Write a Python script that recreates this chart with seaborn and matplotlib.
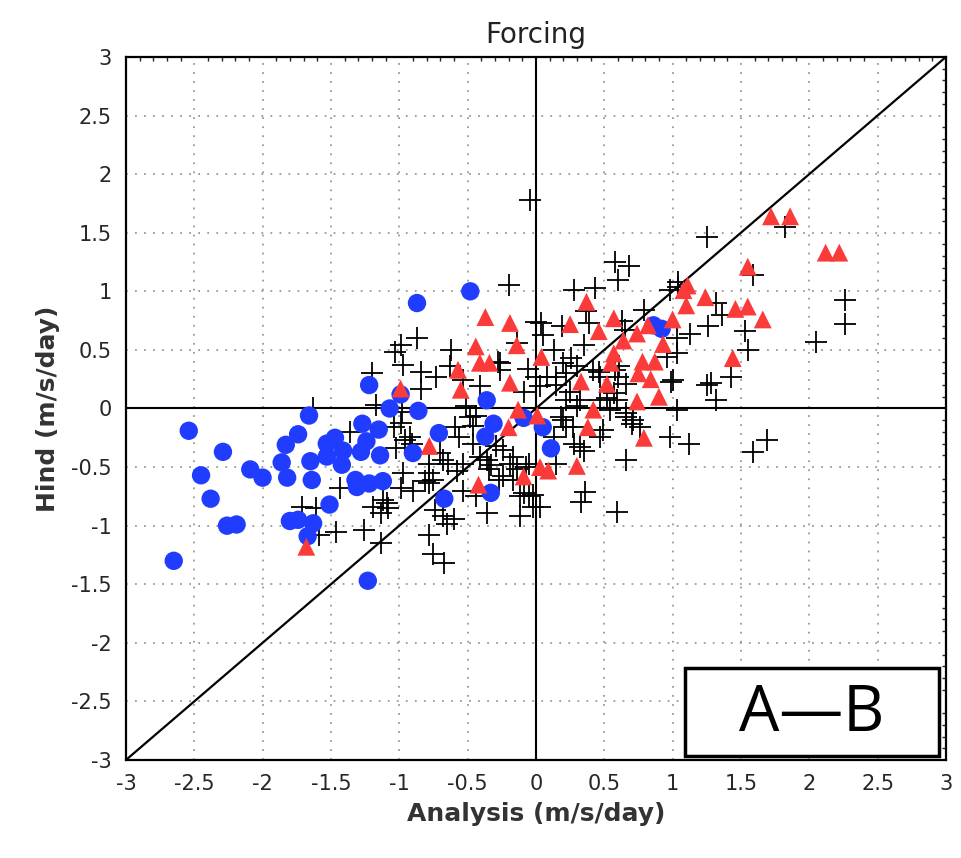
import numpy as np
import pandas as pd
import matplotlib
matplotlib.use("Agg")
import matplotlib.pyplot as plt
import seaborn as sns
from matplotlib.patches import Rectangle
from matplotlib.ticker import MultipleLocator, FuncFormatter

# ------------------------------
# Data (Analysis, Hind) in m/s/day
# ------------------------------
blue_x = [-0.87, -0.48, -1.22, -0.99, -1.07, -0.86, -1.66, -2.54, -1.74, -1.27, -1.15, -1.47,
          -1.83, -1.24, -1.53, -1.41, -1.28, -1.14, -0.90, -2.29, -1.53, -1.86, -1.65, -1.42,
          -2.09, -2.00, -2.45, -1.82, -1.64, -1.32, -1.31, -1.22, -1.12, -2.38, -1.51, -2.26,
          -2.19, -1.80, -1.74, -1.63, -1.67, -2.65, -1.23, -0.36, -0.31, -0.37, -0.71, -0.09,
          0.05, 0.11, -0.33, -0.67, 0.86, 0.92]
blue_y = [0.90, 1.00, 0.20, 0.12, 0.00, -0.02, -0.06, -0.19, -0.22, -0.13, -0.18, -0.25,
          -0.31, -0.28, -0.30, -0.36, -0.37, -0.40, -0.38, -0.37, -0.41, -0.46, -0.45, -0.48,
          -0.52, -0.59, -0.57, -0.59, -0.61, -0.61, -0.67, -0.64, -0.62, -0.77, -0.82, -1.00,
          -0.99, -0.96, -0.95, -0.98, -1.09, -1.30, -1.47, 0.07, -0.13, -0.24, -0.21, -0.08,
          -0.16, -0.34, -0.72, -0.77, 0.71, 0.68]

red_x = [-0.99, -1.68, 0.37, -0.37, -0.19, 0.25, 0.46, 0.57, 0.74, 1.00, 0.64, 0.93,
         -0.44, -0.14, 0.04, 0.57, 0.55, -0.41, -0.34, -0.57, 0.78, 0.87, 0.75, 0.84,
         0.33, 0.52, -0.19, -0.55, 0.90, 0.74, 0.42, -0.13, 0.01, -0.20, 0.38, 0.79,
         -0.78, 0.30, 0.03, 0.09, -0.09, -0.42, 1.72, 1.86, 2.12, 2.22, 1.55, 1.11,
         1.08, 1.24, 1.10, 1.46, 1.55, 1.66, 0.82, 1.44]
red_y = [0.17, -1.18, 0.91, 0.78, 0.73, 0.72, 0.66, 0.77, 0.64, 0.76, 0.58, 0.55,
         0.53, 0.54, 0.44, 0.47, 0.39, 0.39, 0.39, 0.33, 0.40, 0.40, 0.30, 0.25,
         0.23, 0.21, 0.22, 0.16, 0.10, 0.06, -0.01, -0.01, -0.06, -0.16, -0.16, -0.25,
         -0.32, -0.49, -0.50, -0.53, -0.58, -0.65, 1.64, 1.64, 1.33, 1.33, 1.21, 1.05,
         1.01, 0.95, 0.88, 0.85, 0.87, 0.76, 0.71, 0.43]

cross_x = [-0.04, -0.20, 0.58, 0.68, 0.60, 0.28, 0.43, 1.04, -0.87, -0.99, -1.03, -0.62,
           -0.97, -0.84, -0.73, -0.84, 0.04, 0.05, 0.37, 0.39, 0.79, 0.19, 0.35, 0.13,
           0.26, 0.30, -0.06, -0.28, 0.15, 0.00, 0.03, 0.61, 0.46, 0.66, 0.57, 1.00,
           -0.09, -0.41, -0.44, -0.51, 0.22, 0.30, 0.47, 0.54, 0.66, 0.70, 1.03, 0.98,
           0.18, 0.22, 0.13, 0.32, 0.47, 0.66, 0.36, 0.33, 0.59, -1.04, -0.92, -0.59,
           -0.56, -0.70, -0.64, -0.78, -0.75, -0.90, -0.97, -0.46, -0.41, -0.34, -0.27, -0.17,
           -0.09, -0.02, -0.53, -0.36, -1.09,
           1.25, 1.82, 1.59, 1.04, 0.98, 1.32, 1.36, 1.26, 1.13, 1.03, 1.53, 1.55,
           2.26, 2.26, 2.05, 1.03, 0.99, 1.25, 1.28, 1.43, 1.32, 1.12, 1.69, 1.59,
           0.71, 0.03, -0.02, 0.20, 0.27, 0.28, 0.35, 0.15, 0.49, 0.66, 0.76,
           -1.36, -1.43, -1.46, -1.26, -1.19, -1.12, -1.08, -1.13, -1.13, -0.99, -1.02, -0.96,
           -0.91, -0.99, -0.78, -0.81, -0.78, -0.68, -0.74, -0.68, -0.60, -0.65, -0.78, -0.75,
           -0.67, -0.58, -0.53, -0.48, -0.46, -0.36, -0.33, -0.29, -0.24, -0.19, -0.14, -0.07,
           -0.05, -0.44, -0.12, -0.12, -0.05, -0.24, -0.17,
           -1.20, -1.17, -1.63, -0.98, -1.71, -1.61, -1.59, -0.63, -0.53, -0.26, -0.26, -0.14,
           0.00, 0.63, 0.65, 0.20, 0.22, 0.08, 0.15, 0.42, 0.47, 0.25, 0.32, 0.58,
           0.60, 0.52, 0.59, 0.96]
cross_y = [1.78, 1.05, 1.25, 1.22, 1.10, 1.01, 1.03, 1.04, 0.60, 0.54, 0.48, 0.50,
           0.37, 0.31, 0.27, 0.17, 0.73, 0.63, 0.83, 0.73, 0.84, 0.70, 0.54, 0.50,
           0.43, 0.36, 0.34, 0.40, 0.27, 0.27, 0.19, 0.36, 0.31, 0.21, 0.13, 0.24,
           0.14, 0.19, -0.06, 0.02, 0.07, 0.02, 0.07, -0.01, -0.04, -0.13, -0.01, -0.24,
           -0.07, -0.16, -0.24, -0.33, -0.24, -0.44, -0.71, -0.80, -0.88, -0.16, -0.24, -0.16,
           -0.24, -0.38, -0.47, -0.55, -0.61, -0.70, -0.55, -0.30, -0.41, -0.52, -0.61, -0.41,
           -0.72, -0.84, -0.70, -0.89, -0.81,
           1.46, 1.55, 1.14, 1.08, 1.01, 0.90, 0.80, 0.70, 0.64, 0.60, 0.66, 0.50,
           0.93, 0.72, 0.57, 0.47, 0.23, 0.20, 0.22, 0.27, 0.07, -0.30, -0.27, -0.37,
           -0.10, -0.84, -0.74, -0.10, -0.16, -0.30, -0.36, -0.47, -0.18, -0.07, -0.16,
           -0.20, -0.68, -1.05, -1.04, -0.84, -0.78, -0.85, -0.89, -1.15, -0.12, -0.34, -0.27,
           -0.30, -0.68, -0.47, -0.62, -0.64, -0.44, -0.87, -0.92, -0.94, -0.99, -1.08, -1.24,
           -1.32, -0.53, -0.47, -0.07, -0.15, -0.44, -0.48, -0.32, -0.35, -0.47, -0.52, -0.50,
           -0.47, -0.75, -0.92, -0.75, -0.75, -0.58, -0.61,
           0.30, 0.03, 0.00, -0.03, -0.84, -0.85, -1.08, 0.36, 0.24, 0.39, 0.33, 0.56,
           0.74, 0.75, 0.67, 0.39, 0.30, 0.27, 0.20, 0.33, 0.27, 0.14, 0.07, 0.33,
           0.27, 0.09, 0.07, 0.44]

tick_vals = np.arange(-3, 3.01, 0.5)

cross_df = pd.DataFrame({"Analysis": cross_x, "Hind": cross_y})
blue_df = pd.DataFrame({"Analysis": blue_x, "Hind": blue_y})
red_df = pd.DataFrame({"Analysis": red_x, "Hind": red_y})

# ------------------------------
# Figure
# ------------------------------
sns.set_style("white")
plt.rcParams["font.family"] = ["DejaVu Sans"]

fig = plt.figure(figsize=(9.61, 8.58), dpi=100)
ax = fig.add_axes([0.131, 0.1142, 0.8533, 0.8194])

# grid and reference lines
for v in tick_vals:
    ax.axvline(v, color="#9a9a9a", lw=1.3, ls=(0, (1, 4)), zorder=0)
    ax.axhline(v, color="#9a9a9a", lw=1.3, ls=(0, (1, 4)), zorder=0)
ax.axhline(0, color="black", lw=1.5, zorder=1)
ax.axvline(0, color="black", lw=1.5, zorder=1)
ax.plot([-3, 3], [-3, 3], color="black", lw=1.6, zorder=1)

sns.scatterplot(data=cross_df, x="Analysis", y="Hind", marker="+", s=240,
                color="black", linewidth=1.3, ax=ax, zorder=2)
sns.scatterplot(data=blue_df, x="Analysis", y="Hind", marker="o", s=175,
                color="#1f3cff", edgecolor="none", ax=ax, zorder=3)
sns.scatterplot(data=red_df, x="Analysis", y="Hind", marker="^", s=165,
                color="#fb3a3a", edgecolor="none", ax=ax, zorder=4)

ax.set_xlim(-3, 3)
ax.set_ylim(-3, 3)
fmt = FuncFormatter(lambda v, p: f"{v:g}")
ax.xaxis.set_major_locator(MultipleLocator(0.5))
ax.yaxis.set_major_locator(MultipleLocator(0.5))
ax.xaxis.set_major_formatter(fmt)
ax.yaxis.set_major_formatter(fmt)
ax.xaxis.set_minor_locator(MultipleLocator(0.1))
ax.yaxis.set_minor_locator(MultipleLocator(0.1))
ax.tick_params(which="major", direction="out", length=6, width=1.3,
               labelsize=15, pad=4)
ax.tick_params(which="minor", direction="in", length=3, width=1.0,
               top=True, right=True)
for sp in ax.spines.values():
    sp.set_linewidth(1.6)
    sp.set_color("black")

ax.set_title("Forcing", fontsize=20, pad=10, color="#222222")
ax.set_xlabel("Analysis (m/s/day)", fontsize=18, fontweight="bold",
              color="#333333", labelpad=6)
ax.set_ylabel("Hind (m/s/day)", fontsize=18, fontweight="bold",
              color="#333333", labelpad=8)

# label box
ax.add_patch(Rectangle((0.682, 0.006), 0.31, 0.125, transform=ax.transAxes,
                       fc="white", ec="black", lw=2.5, zorder=6))
ax.text(0.836, 0.066, "A\u2014B", transform=ax.transAxes, ha="center", va="center",
        fontsize=46, family=["Open Sans", "DejaVu Sans"], color="black", zorder=7)

fig.savefig("out.png", dpi=100)
